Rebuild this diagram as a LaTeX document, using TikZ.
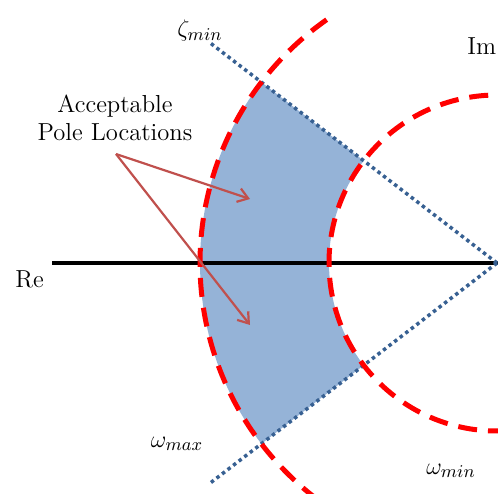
\documentclass[tikz,border=0pt]{standalone}
\usepackage{amsmath}
\usetikzlibrary{arrows.meta,calc}
\definecolor{regblue}{RGB}{149,179,215}
\definecolor{zetablue}{RGB}{55,96,146}
\definecolor{ptrred}{RGB}{192,80,77}
\tikzset{
  lbl/.style={font=\fontsize{12.3}{14}\selectfont,inner sep=0pt,align=center},
  mlbl/.style={font=\fontsize{13}{15}\selectfont,inner sep=0pt},
  zline/.style={draw=zetablue,line width=1.75pt,dash pattern=on 1.75pt off 1.75pt},
  wcirc/.style={draw=red,line width=2.5pt,dash pattern=on 9.5pt off 5.5pt},
  axisln/.style={draw=black,line width=2pt},
  region/.style={fill=regblue},
  ptr/.style={-{Straight Barb[length=5pt,width=7pt]},draw=ptrred,line width=1.1pt}
}

\begin{document}
\begin{tikzpicture}[x=0.5pt,y=0.5pt]
  \useasboundingbox (0,0) rectangle (498,493);
  \clip (0,0) rectangle (498,493);
  \coordinate (O) at (497,230);

  % Acceptable region
  \fill[region] ($(O)+(142.5:168)$) arc[start angle=142.5,end angle=217.5,radius=168]
    -- ($(O)+(217.5:297)$) arc[start angle=217.5,end angle=142.5,radius=297] -- cycle;

  % Real axis
  \coordinate (reL) at (52,230);
  \coordinate (reR) at (498,230);
  \draw[axisln] (reL) -- (reR);

  % Damping lines
  \coordinate (zU) at ($(O)+(142.5:362)$);
  \coordinate (zD) at ($(O)+(217.5:362)$);
  \draw[zline] (O) -- (zU);
  \draw[zline] (O) -- (zD);

  % Frequency circles
  \draw[wcirc] ($(O)+(125:297)$) arc[start angle=125,end angle=232,radius=297];
  \draw[wcirc] ($(O)+(93:168)$) arc[start angle=93,end angle=272,radius=168];

  % Labels
  \node[lbl] (pole) at (115,375.5) {Acceptable\\Pole Locations};
  \node[lbl,anchor=base west] (re) at (15,205) {Re};
  \node[lbl,anchor=base west] (im) at (467,438) {Im};
  \node[mlbl] (zmin) at (200,462) {$\zeta_{min}$};
  \node[mlbl] (wmax) at (177,49) {$\omega_{max}$};
  \node[mlbl] (wmin) at (451,22) {$\omega_{min}$};

  % Pointers
  \coordinate (src) at (116,339);
  \coordinate (pU) at (250,294);
  \coordinate (pD) at (250,168);
  \draw[ptr] (src) -- (pU);
  \draw[ptr] (src) -- (pD);
\end{tikzpicture}
\end{document}
